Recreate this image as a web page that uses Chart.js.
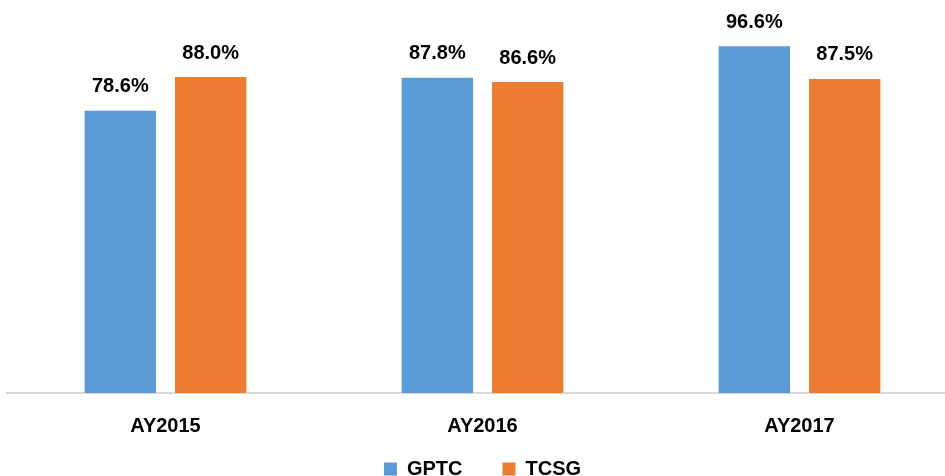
<!DOCTYPE html>
<html>
<head>
<meta charset="utf-8">
<script src="https://cdn.jsdelivr.net/npm/chart.js@4"></script>
<style>
  html, body { margin: 0; padding: 0; background: #fff; overflow: hidden; }
  #wrap { width: 958px; height: 489px; position: relative; }
</style>
</head>
<body>
<div id="wrap"><canvas id="chart"></canvas></div>
<script>
/* ── Data ── */
const years = ['AY2015', 'AY2016', 'AY2017'];
const gptc  = [78.6, 87.8, 96.6];
const tcsg  = [88.0, 86.6, 87.5];

/* ── Palette ── */
const C = { blue: '#5b9bd5', orange: '#ed7d31', axis: '#d9d9d9', text: '#000' };
const FONT = "'Liberation Sans', Arial, sans-serif";

/* value labels above bars */
const barLabels = {
  id: 'barLabels',
  afterDatasetsDraw(chart) {
    const { ctx } = chart;
    ctx.save();
    ctx.font = `bold 20px ${FONT}`;
    ctx.fillStyle = C.text;
    ctx.textAlign = 'center';
    ctx.textBaseline = 'middle';
    chart.data.datasets.forEach((ds, i) => {
      chart.getDatasetMeta(i).data.forEach((bar, j) => {
        ctx.fillText(ds.data[j].toFixed(1) + '%', bar.x, bar.y - 24);
      });
    });
    ctx.restore();
  },
};

new Chart(document.getElementById('chart'), {
  type: 'bar',
  data: {
    labels: years,
    datasets: [
      { label: 'GPTC', data: gptc, backgroundColor: C.blue },
      { label: 'TCSG', data: tcsg, backgroundColor: C.orange },
    ],
  },
  options: {
    responsive: true, maintainAspectRatio: false, animation: false,
    categoryPercentage: 0.57, barPercentage: 0.79,
    layout: { padding: { left: 7, right: 0, top: 34, bottom: 0 } },
    plugins: {
      tooltip: { enabled: false },
      legend: {
        position: 'bottom',
        labels: {
          color: C.text, boxWidth: 13, boxHeight: 13, padding: 0,
          font: { family: FONT, size: 20, weight: 'bold', lineHeight: 1 },
          // wider gap between the two legend items
          generateLabels: chart => Chart.defaults.plugins.legend.labels.generateLabels(chart)
            .map((l, i) => ({ ...l, text: i === 0 ? l.text + '\u2003\u2003' : l.text })),
        },
      },
    },
    scales: {
      y: { display: false, min: 0, max: 100 },
      x: {
        grid: { display: false, drawTicks: false },
        border: { color: C.axis, width: 2 },
        ticks: {
          color: C.text, padding: 21,
          font: { family: FONT, size: 20, weight: 'bold' },
        },
      },
    },
  },
  plugins: [barLabels],
});
</script>
</body>
</html>
